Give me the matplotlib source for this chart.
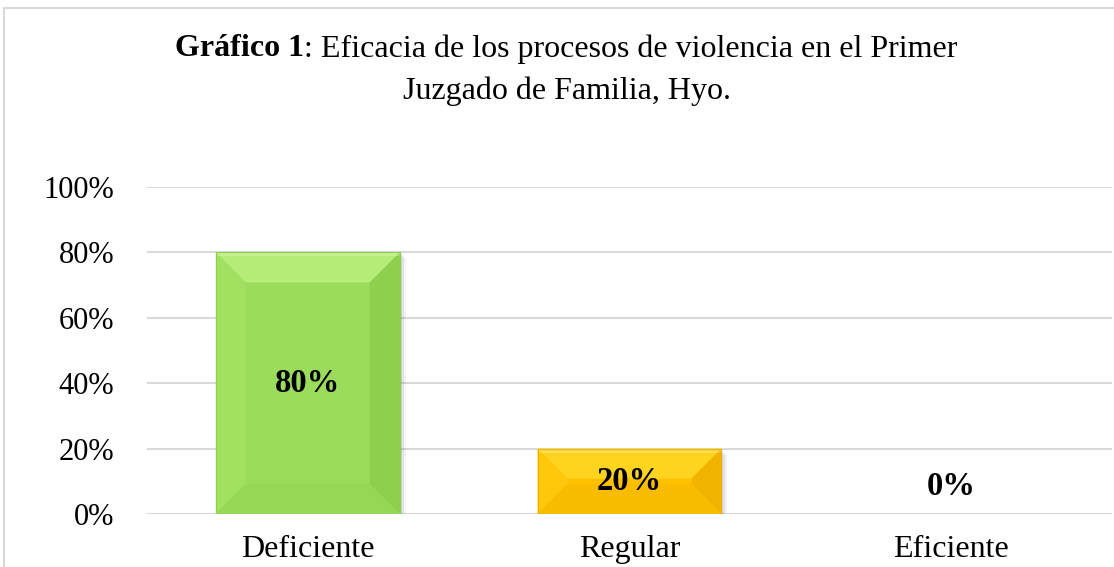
import matplotlib.pyplot as plt
from matplotlib.patches import Polygon, Rectangle

categorias = ["Deficiente", "Regular", "Eficiente"]
valores = [80, 20, 0]
etiquetas = ["80%", "20%", "0%"]
ticks_y = [0, 20, 40, 60, 80, 100]
ticks_y_txt = ["0%", "20%", "40%", "60%", "80%", "100%"]

# colores: cara central, arriba, izquierda, derecha, abajo
colores = [
    ("#9CDC5C", "#B6EC78", "#A2E062", "#8ECF4E", "#97D757"),
    ("#FFC000", "#FFD41E", "#FFC80A", "#F2B300", "#FABC00"),
    ("#FFC000", "#FFD41E", "#FFC80A", "#F2B300", "#FABC00"),
]

plt.rcParams["font.family"] = ["Liberation Serif", "DejaVu Serif"]

fig = plt.figure(figsize=(11.14, 5.67), dpi=100)
ax = fig.add_axes([147 / 1114, 53 / 567, 965 / 1114, 327 / 567])

# borde del grafico
fig.patches.append(Rectangle((4 / 1114, -0.1), 1.2, (567 - 8) / 567 + 0.1,
                             transform=fig.transFigure, fill=False,
                             edgecolor="#D9D9D9", linewidth=1.5))

x = list(range(len(categorias)))
ancho = 0.572
barras = ax.bar(x, valores, width=ancho, color=[c[0] for c in colores],
                edgecolor="none", zorder=3)

ax.set_xlim(-0.5, 2.5)
ax.set_ylim(0, 100)
ax.set_yticks(ticks_y)
ax.set_yticklabels(ticks_y_txt, fontsize=22)
ax.set_xticks(x)
ax.set_xticklabels(categorias, fontsize=23)
ax.tick_params(axis="y", length=0, pad=23.5)
ax.tick_params(axis="x", length=0, pad=15)
ax.grid(axis="y", color="#D9D9D9", linewidth=1.5, zorder=0)
for s in ax.spines.values():
    s.set_visible(False)

# bisel y sombra
px_x = 965 / 3.0
px_y = 327 / 100.0
for b, c in zip(barras, colores):
    h = b.get_height()
    if h <= 0:
        continue
    x0, x1 = b.get_x(), b.get_x() + b.get_width()
    bx = 30 / px_x
    by = min(30 / px_y, h / 2)
    # sombra
    for k, a in [(6, 0.08), (4, 0.12), (2, 0.18)]:
        ax.add_patch(Rectangle((x0 + k / px_x, -k / px_y), x1 - x0, h,
                               facecolor="#707070", alpha=a, edgecolor="none",
                               zorder=2))
    ix0, ix1, iy0, iy1 = x0 + bx, x1 - bx, by, h - by
    caras = [
        ([(x0, h), (x1, h), (ix1, iy1), (ix0, iy1)], c[1]),
        ([(x0, 0), (x0, h), (ix0, iy1), (ix0, iy0)], c[2]),
        ([(x1, 0), (x1, h), (ix1, iy1), (ix1, iy0)], c[3]),
        ([(x0, 0), (x1, 0), (ix1, iy0), (ix0, iy0)], c[4]),
    ]
    for pts, col in caras:
        ax.add_patch(Polygon(pts, closed=True, facecolor=col,
                             edgecolor="none", zorder=4))
    # franja brillante arriba
    ax.add_patch(Rectangle((x0, h - 4 / px_y), x1 - x0, 4 / px_y,
                           facecolor="white", alpha=0.2, edgecolor="none",
                           zorder=4))
    ax.add_patch(Rectangle((x0, 0), x1 - x0, h, fill=False,
                           edgecolor=c[3], linewidth=0.8, zorder=5))

for xi, v, t in zip(x, valores, etiquetas):
    yy = v / 2 if v > 0 else 8.5
    ax.text(xi, yy, t, ha="center", va="center", fontsize=23.5,
            fontweight="bold", zorder=6)

# titulo con parte en negrita
fig.canvas.draw()
r = fig.canvas.get_renderer()
t1 = fig.text(0, 518 / 567, "Gráfico 1", fontsize=23, fontweight="bold",
              va="center", ha="left")
t2 = fig.text(0, 518 / 567, ": Eficacia de los procesos de violencia en el Primer",
              fontsize=23, va="center", ha="left")
w1 = t1.get_window_extent(r).width
w2 = t2.get_window_extent(r).width
inicio = 566 - (w1 + w2) / 2
t1.set_x(inicio / 1114)
t2.set_x((inicio + w1) / 1114)
fig.text(567 / 1114, 476 / 567, "Juzgado de Familia, Hyo.", fontsize=23,
         ha="center", va="center")

plt.savefig("out.png", dpi=100)
